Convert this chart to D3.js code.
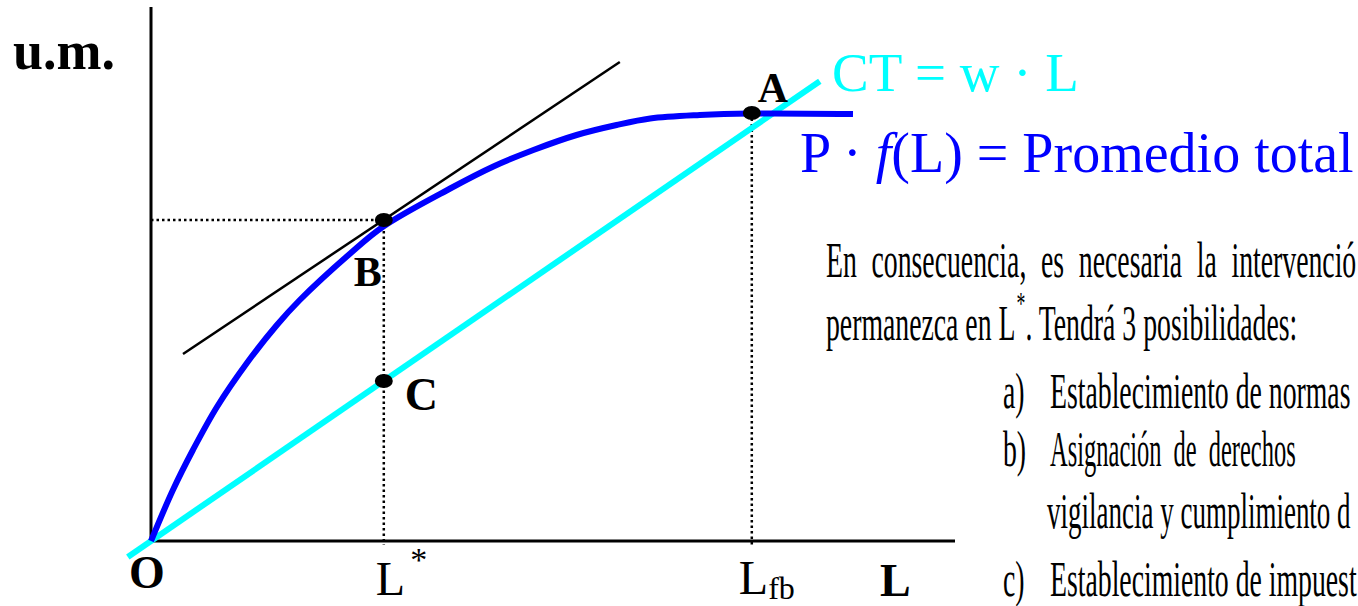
<!DOCTYPE html>
<html>
<head>
<meta charset="utf-8">
<script src="https://cdn.jsdelivr.net/npm/d3@7"></script>
<style>
  html, body { margin: 0; padding: 0; background: #fff; overflow: hidden; }
  svg { display: block; }
</style>
</head>
<body>
<svg id="chart" width="1358" height="606"></svg>
<script>
// Labour (L) against money units (u.m.)
const laborValues = [0, 2.74, 5.24, 8.24, 11.99, 15.74, 18.6, 24.9, 29.04, 37.4, 42.8, 47.8, 53.2, 58.2, 62.4, 68.6, 74.9, 87.75];
const revenueValues = [0, 10.2, 18.2, 26.8, 35.6, 43.2, 48.2, 57.5, 62.9, 70.5, 74.9, 78.2, 81.2, 83.2, 84.5, 85.2, 85.5, 85.4];

// Cost line CT = w · L
const wage = 1.1;
const costLineLabor = [-2.9, 83.6];

// Line touching the revenue curve at B
const tangentLabor = [4, 58.6];
const tangentValue = [37.4, 95.8];

const lStar = 29.1;
const lFb = 75.1;
const valueB = 64.2;
const valueA = 85.6;

const paragraphLines = [
  "En consecuencia, es necesaria la intervenció",
  "permanezca en L",
  ". Tendrá 3 posibilidades:"
];
const listMarkers = ["a)", "b)", "c)"];
const listLines = [
  "Establecimiento de normas",
  "Asignación de derechos",
  "vigilancia y cumplimiento d",
  "Establecimiento de impuest"
];

const svg = d3.select("#chart");
const x = d3.scaleLinear().domain([0, 100.5]).range([151, 955]);
const y = d3.scaleLinear().domain([0, 106.8]).range([541, 7]);

const serif = "'Liberation Serif', 'Times New Roman', serif";

// axes
svg.append("line")
  .attr("x1", x(0)).attr("x2", x(0)).attr("y1", y(0) + 1).attr("y2", y(106.8))
  .attr("stroke", "#000").attr("stroke-width", 3);
svg.append("line")
  .attr("x1", x(0)).attr("x2", x(100.5)).attr("y1", y(0)).attr("y2", y(0))
  .attr("stroke", "#000").attr("stroke-width", 3);

// dotted guides
const dotted = (x1, y1, x2, y2) => svg.append("line")
  .attr("x1", x1).attr("y1", y1).attr("x2", x2).attr("y2", y2)
  .attr("stroke", "#000").attr("stroke-width", 2.5).attr("stroke-dasharray", "2.5,3");
dotted(x(0), y(valueB), x(lStar), y(valueB));
dotted(x(lStar), y(valueB), x(lStar), y(0) + 4);
dotted(x(lFb), y(valueA), x(lFb), y(0) + 4);

// tangent at B
svg.append("line")
  .attr("x1", x(tangentLabor[0])).attr("y1", y(tangentValue[0]))
  .attr("x2", x(tangentLabor[1])).attr("y2", y(tangentValue[1]))
  .attr("stroke", "#000").attr("stroke-width", 2.5);

// cost line
svg.append("line")
  .attr("x1", x(costLineLabor[0])).attr("y1", y(wage * costLineLabor[0]))
  .attr("x2", x(costLineLabor[1])).attr("y2", y(wage * costLineLabor[1]))
  .attr("stroke", "#00ffff").attr("stroke-width", 6);

// revenue curve P · f(L)
const curve = d3.line()
  .x((d, i) => x(laborValues[i]))
  .y((d, i) => y(revenueValues[i]))
  .curve(d3.curveCatmullRom.alpha(0.5));
svg.append("path")
  .datum(laborValues)
  .attr("d", curve)
  .attr("fill", "none").attr("stroke", "#0000ff").attr("stroke-width", 6)
  .attr("stroke-linejoin", "round");

// points
[[lFb, valueA], [lStar, valueB], [lStar, wage * lStar]].forEach(([l, v]) => {
  svg.append("ellipse")
    .attr("cx", x(l)).attr("cy", y(v)).attr("rx", 9).attr("ry", 7)
    .attr("fill", "#000");
});

// labels
const label = (t, px, py, size, weight, color) => svg.append("text")
  .attr("x", px).attr("y", py)
  .attr("font-family", serif).attr("font-size", size)
  .attr("font-weight", weight || "normal")
  .attr("fill", color || "#000")
  .text(t);

label("u.m.", 13, 69, 54, "bold");
label("O", 129, 588, 46, "bold");
label("B", x(lStar) - 30, y(valueB) + 66, 42, "bold");
label("C", x(lStar) + 21, y(wage * lStar) + 29, 46, "bold");
label("A", x(lFb) + 6, y(valueA) - 11, 42, "bold");
label("L", 880, 596, 46, "bold");

const ls = label("L", x(lStar) - 8, 595, 48);
ls.append("tspan").attr("font-size", 34).attr("dx", 5).attr("dy", -24).text("*");
const lf = label("L", x(lFb) - 13, 594, 48);
lf.append("tspan").attr("font-size", 32).attr("dy", 5).text("fb");

label("CT = w · L", 832, 91, 55, "normal", "#00ffff");
const pf = label("P · ", 800, 172, 56, "normal", "#0000ff");
pf.append("tspan").attr("font-family", serif).attr("font-style", "italic").text("f");
pf.append("tspan").attr("font-family", serif).text("(L) = Promedio total");

// explanatory text, set in a condensed serif
const textSize = 50, squeeze = 0.555;
const condensed = (t, px, py, ws, sx) => svg.append("text")
  .attr("transform", `translate(${px},${py}) scale(${sx || squeeze},1)`)
  .attr("font-family", serif).attr("font-size", textSize)
  .attr("word-spacing", ws || 0)
  .attr("fill", "#000")
  .text(t);

const paraX = 826;
condensed(paragraphLines[0], paraX, 277, 14);
const l2 = condensed(paragraphLines[1], paraX, 340);
const l2w = l2.node().getComputedTextLength() * squeeze;
condensed("*", paraX + l2w + 1, 314).attr("font-size", 32);
condensed(paragraphLines[2], paraX + l2w + 10, 340);

const listX = 1003, textX = 1050;
const listY = [408, 466, 528, 596];
condensed(listMarkers[0], listX, listY[0]);
condensed(listLines[0], textX, listY[0]);

// justified line b): words spread across the measure
condensed(listMarkers[1], listX, listY[1]);
const bSqueeze = 0.49;
let bx = textX;
listLines[1].split(" ").forEach(w => {
  const t = condensed(w, bx, listY[1], 0, bSqueeze);
  bx += t.node().getComputedTextLength() * bSqueeze + 12;
});

condensed(listLines[2], textX - 3, listY[2], 0, 0.54);
condensed(listMarkers[2], listX, listY[3]);
condensed(listLines[3], textX, listY[3]);
</script>
</body>
</html>
